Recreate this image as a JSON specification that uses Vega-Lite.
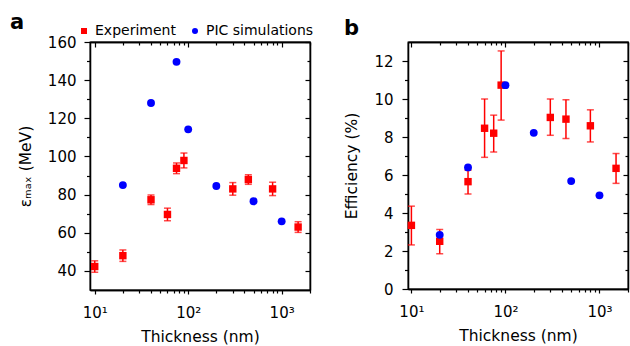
{
  "$schema": "https://vega.github.io/schema/vega-lite/v6.json",
  "padding": {"left": 9, "top": 10, "right": 0, "bottom": 0},
  "spacing": 31,
  "datasets": {
    "a": [
      {"t": 10, "v": 42.3, "lo": 39.3, "hi": 45.3, "series": "Experiment"},
      {"t": 20, "v": 48, "lo": 45, "hi": 51, "series": "Experiment"},
      {"t": 40, "v": 77.3, "lo": 74.8, "hi": 79.8, "series": "Experiment"},
      {"t": 60, "v": 69.6, "lo": 66.3, "hi": 72.9, "series": "Experiment"},
      {"t": 75, "v": 93.8, "lo": 91, "hi": 96.6, "series": "Experiment"},
      {"t": 90, "v": 97.9, "lo": 94, "hi": 101.8, "series": "Experiment"},
      {"t": 300, "v": 83, "lo": 79.7, "hi": 86.3, "series": "Experiment"},
      {"t": 440, "v": 87.9, "lo": 85.4, "hi": 90.4, "series": "Experiment"},
      {"t": 800, "v": 83, "lo": 79.5, "hi": 86.5, "series": "Experiment"},
      {"t": 1500, "v": 63, "lo": 60.2, "hi": 65.8, "series": "Experiment"},
      {"t": 20, "v": 85, "series": "PIC simulations"},
      {"t": 40, "v": 128, "series": "PIC simulations"},
      {"t": 75, "v": 149.6, "series": "PIC simulations"},
      {"t": 100, "v": 114.2, "series": "PIC simulations"},
      {"t": 200, "v": 84.5, "series": "PIC simulations"},
      {"t": 500, "v": 76.5, "series": "PIC simulations"},
      {"t": 1000, "v": 66, "series": "PIC simulations"}
    ],
    "b": [
      {"t": 10, "v": 3.35, "lo": 2.32, "hi": 4.36, "series": "Experiment"},
      {"t": 20, "v": 2.51, "lo": 1.86, "hi": 3.13, "series": "Experiment"},
      {"t": 40, "v": 5.65, "lo": 5.0, "hi": 6.25, "series": "Experiment"},
      {"t": 60, "v": 8.46, "lo": 6.93, "hi": 10.0, "series": "Experiment"},
      {"t": 75, "v": 8.2, "lo": 7.21, "hi": 9.15, "series": "Experiment"},
      {"t": 90, "v": 10.73, "lo": 8.89, "hi": 12.53, "series": "Experiment"},
      {"t": 300, "v": 9.03, "lo": 8.09, "hi": 10.0, "series": "Experiment"},
      {"t": 440, "v": 8.94, "lo": 7.92, "hi": 9.96, "series": "Experiment"},
      {"t": 800, "v": 8.59, "lo": 7.74, "hi": 9.43, "series": "Experiment"},
      {"t": 1500, "v": 6.35, "lo": 5.56, "hi": 7.13, "series": "Experiment"},
      {"t": 20, "v": 2.85, "series": "PIC simulations"},
      {"t": 40, "v": 6.4, "series": "PIC simulations"},
      {"t": 100, "v": 10.73, "series": "PIC simulations"},
      {"t": 200, "v": 8.22, "series": "PIC simulations"},
      {"t": 500, "v": 5.68, "series": "PIC simulations"},
      {"t": 1000, "v": 4.93, "series": "PIC simulations"}
    ]
  },
  "hconcat": [
    {
      "width": 220,
      "height": 248,
      "title": {"text": "a", "anchor": "start", "frame": "group", "fontSize": 21, "fontWeight": "bold", "dx": -80, "dy": 1.5, "color": "black"},
      "data": {"name": "a"},
      "resolve": {"axis": {"x": "independent", "y": "independent"}},
      "layer": [
        {
          "mark": {"type": "rule", "color": "#ff0000", "strokeWidth": 1.5},
          "transform": [{"filter": "datum.series === 'Experiment'"}],
          "encoding": {
            "x": {"field": "t", "type": "quantitative", "scale": {"type": "log", "domain": [8.9, 2010], "nice": false},
                  "axis": {"orient": "bottom", "values": [10, 100, 1000], "labelExpr": "datum.value == 10 ? '10¹' : datum.value == 100 ? '10²' : '10³'", "title": "Thickness (nm)", "tickSize": 4, "labelPadding": 11, "titlePadding": 9}},
            "y": {"field": "lo", "type": "quantitative", "scale": {"domain": [30, 160], "nice": false, "zero": false},
                  "axis": {"orient": "left", "values": [40, 60, 80, 100, 120, 140, 160], "title": "εₘₐₓ (MeV)", "tickSize": 6, "labelPadding": 8, "titlePadding": 14}},
            "y2": {"field": "hi"}
          }
        },
        {
          "mark": {"type": "tick", "orient": "horizontal", "color": "#ff0000", "size": 7, "thickness": 1.5},
          "transform": [{"filter": "datum.series === 'Experiment'"}],
          "encoding": {
            "x": {"field": "t", "type": "quantitative", "axis": {"orient": "top", "values": [10, 100, 1000], "labels": false, "title": "", "tickSize": -5}},
            "y": {"field": "lo", "type": "quantitative", "axis": {"orient": "right", "values": [40, 60, 80, 100, 120, 140, 160], "labels": false, "title": "", "tickSize": -5}}
          }
        },
        {
          "mark": {"type": "tick", "orient": "horizontal", "color": "#ff0000", "size": 7, "thickness": 1.5},
          "transform": [{"filter": "datum.series === 'Experiment'"}],
          "encoding": {
            "x": {"field": "t", "type": "quantitative", "axis": {"orient": "bottom", "values": [20, 30, 40, 50, 60, 70, 80, 90, 200, 300, 400, 500, 600, 700, 800, 900, 2000], "labels": false, "title": "", "tickSize": 3}},
            "y": {"field": "hi", "type": "quantitative", "axis": {"orient": "left", "values": [50, 70, 90, 110, 130, 150], "labels": false, "title": "", "tickSize": 3.5}}
          }
        },
        {
          "mark": {"type": "point", "filled": true, "opacity": 1, "size": 55},
          "transform": [{"filter": "datum.series === 'Experiment'"}],
          "encoding": {
            "x": {"field": "t", "type": "quantitative", "axis": {"orient": "top", "values": [20, 30, 40, 50, 60, 70, 80, 90, 200, 300, 400, 500, 600, 700, 800, 900, 2000], "labels": false, "title": "", "tickSize": -3}},
            "y": {"field": "v", "type": "quantitative", "axis": {"orient": "right", "values": [50, 70, 90, 110, 130, 150], "labels": false, "title": "", "tickSize": -3}},
            "color": {"field": "series", "type": "nominal", "scale": {"domain": ["Experiment", "PIC simulations"], "range": ["#ff0000", "#0000ff"]},
                      "legend": {"orient": "none", "legendX": -13, "legendY": -18, "direction": "horizontal", "title": null}},
            "shape": {"field": "series", "type": "nominal", "scale": {"domain": ["Experiment", "PIC simulations"], "range": ["square", "circle"]},
                      "legend": {"orient": "none", "legendX": -13, "legendY": -18, "direction": "horizontal", "title": null}}
          }
        },
        {
          "mark": {"type": "point", "filled": true, "opacity": 1, "size": 62},
          "transform": [{"filter": "datum.series === 'PIC simulations'"}],
          "encoding": {
            "x": {"field": "t", "type": "quantitative", "axis": null},
            "y": {"field": "v", "type": "quantitative", "axis": null},
            "color": {"field": "series", "type": "nominal"},
            "shape": {"field": "series", "type": "nominal"}
          }
        }
      ]
    },
    {
      "width": 220,
      "height": 247,
      "title": {"text": "b", "anchor": "start", "frame": "group", "fontSize": 21, "fontWeight": "bold", "dx": -64, "dy": 1.5, "color": "black"},
      "data": {"name": "b"},
      "resolve": {"axis": {"x": "independent", "y": "independent"}},
      "layer": [
        {
          "mark": {"type": "rule", "color": "#ff0000", "strokeWidth": 1.5},
          "transform": [{"filter": "datum.series === 'Experiment'"}],
          "encoding": {
            "x": {"field": "t", "type": "quantitative", "scale": {"type": "log", "domain": [9.2, 2010], "nice": false},
                  "axis": {"orient": "bottom", "values": [10, 100, 1000], "labelExpr": "datum.value == 10 ? '10¹' : datum.value == 100 ? '10²' : '10³'", "title": "Thickness (nm)", "tickSize": 4, "labelPadding": 11, "titlePadding": 9}},
            "y": {"field": "lo", "type": "quantitative", "scale": {"domain": [0, 13], "nice": false},
                  "axis": {"orient": "left", "values": [0, 2, 4, 6, 8, 10, 12], "title": "Efficiency (%)", "tickSize": 6, "labelPadding": 9, "titlePadding": 14}},
            "y2": {"field": "hi"}
          }
        },
        {
          "mark": {"type": "tick", "orient": "horizontal", "color": "#ff0000", "size": 7, "thickness": 1.5},
          "transform": [{"filter": "datum.series === 'Experiment'"}],
          "encoding": {
            "x": {"field": "t", "type": "quantitative", "axis": {"orient": "top", "values": [10, 100, 1000], "labels": false, "title": "", "tickSize": -5}},
            "y": {"field": "lo", "type": "quantitative", "axis": {"orient": "right", "values": [0, 2, 4, 6, 8, 10, 12], "labels": false, "title": "", "tickSize": -5}}
          }
        },
        {
          "mark": {"type": "tick", "orient": "horizontal", "color": "#ff0000", "size": 7, "thickness": 1.5},
          "transform": [{"filter": "datum.series === 'Experiment'"}],
          "encoding": {
            "x": {"field": "t", "type": "quantitative", "axis": {"orient": "bottom", "values": [20, 30, 40, 50, 60, 70, 80, 90, 200, 300, 400, 500, 600, 700, 800, 900, 2000], "labels": false, "title": "", "tickSize": 3}},
            "y": {"field": "hi", "type": "quantitative", "axis": {"orient": "left", "values": [1, 3, 5, 7, 9, 11], "labels": false, "title": "", "tickSize": 3.5}}
          }
        },
        {
          "mark": {"type": "point", "filled": true, "opacity": 1, "size": 55},
          "transform": [{"filter": "datum.series === 'Experiment'"}],
          "encoding": {
            "x": {"field": "t", "type": "quantitative", "axis": {"orient": "top", "values": [20, 30, 40, 50, 60, 70, 80, 90, 200, 300, 400, 500, 600, 700, 800, 900, 2000], "labels": false, "title": "", "tickSize": -3}},
            "y": {"field": "v", "type": "quantitative", "axis": {"orient": "right", "values": [1, 3, 5, 7, 9, 11], "labels": false, "title": "", "tickSize": -3}},
            "color": {"field": "series", "type": "nominal", "scale": {"domain": ["Experiment", "PIC simulations"], "range": ["#ff0000", "#0000ff"]},
                      "legend": {"orient": "none", "legendX": -13, "legendY": -18, "direction": "horizontal", "title": null}},
            "shape": {"field": "series", "type": "nominal", "scale": {"domain": ["Experiment", "PIC simulations"], "range": ["square", "circle"]},
                      "legend": {"orient": "none", "legendX": -13, "legendY": -18, "direction": "horizontal", "title": null}}
          }
        },
        {
          "mark": {"type": "point", "filled": true, "opacity": 1, "size": 62},
          "transform": [{"filter": "datum.series === 'PIC simulations'"}],
          "encoding": {
            "x": {"field": "t", "type": "quantitative", "axis": null},
            "y": {"field": "v", "type": "quantitative", "axis": null},
            "color": {"field": "series", "type": "nominal"},
            "shape": {"field": "series", "type": "nominal"}
          }
        }
      ]
    }
  ],
  "config": {
    "font": "DejaVu Sans",
    "view": {"stroke": "black", "strokeWidth": 1.3},
    "axis": {
      "grid": false,
      "domainColor": "black",
      "domainWidth": 1.3,
      "tickColor": "black",
      "tickWidth": 1.2,
      "labelColor": "black",
      "labelFontSize": 15,
      "labelFont": "DejaVu Sans",
      "titleFont": "DejaVu Sans",
      "titleFontSize": 15.5,
      "titleFontWeight": "normal",
      "titleColor": "black"
    },
    "legend": {
      "labelFontSize": 14,
      "labelFont": "DejaVu Sans",
      "labelColor": "black",
      "symbolSize": 36,
      "symbolType": "square",
      "labelOffset": 4,
      "columnPadding": 12,
      "padding": 0
    },
    "title": {"font": "DejaVu Sans"}
  }
}
